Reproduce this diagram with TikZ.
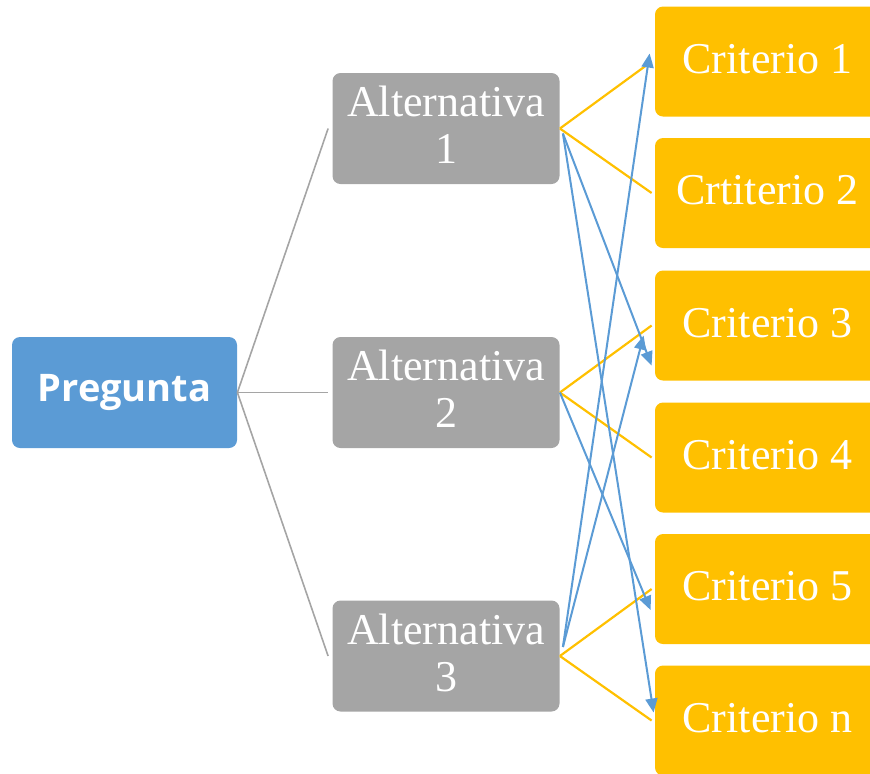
\documentclass[tikz,border=0pt]{standalone}
\usepackage{fontspec}
\setmainfont{Liberation Serif}
\newfontfamily\pregfont{Open Sans}
\usetikzlibrary{arrows.meta,calc}
\definecolor{pblue}{HTML}{5B9BD5}
\definecolor{pgray}{HTML}{A5A5A5}
\definecolor{pgold}{HTML}{FFC000}
\begin{document}
\begin{tikzpicture}[x=0.5pt,y=-0.5pt,
  box/.style={rounded corners=4pt,inner sep=0pt,text=white,align=center,
    font=\fontsize{22}{23.5}\selectfont},
  pregbox/.style={box,fill=pblue,minimum width=112.5pt,minimum height=55.5pt,
    font=\pregfont\bfseries\fontsize{19}{20}\selectfont},
  altbox/.style={box,fill=pgray,minimum width=113.5pt,minimum height=55.5pt,text depth=3.5pt},
  critbox/.style={box,fill=pgold,minimum width=112.5pt,minimum height=55pt,text depth=3pt},
  treeline/.style={draw=pgray,line width=0.8pt},
  goldline/.style={draw=pgold,line width=1.1pt},
  bluearrow/.style={draw=pblue,line width=1pt,-{Triangle[length=7pt,width=6pt]}}]
\useasboundingbox (0,0) rectangle (870,773);
\node[pregbox] (preg) at (124.5,392.5) {Pregunta};
\node[altbox] (alt1) at (446,128.5) {Alternativa\\1};
\node[altbox] (alt2) at (446,392.5) {Alternativa\\2};
\node[altbox] (alt3) at (446,656) {Alternativa\\3};
\node[critbox] (c1) at (767.5,61.5) {Criterio 1};
\node[critbox] (c2) at (767.5,193) {Crtiterio 2};
\node[critbox] (c3) at (767.5,325.5) {Criterio 3};
\node[critbox] (c4) at (767.5,457.5) {Criterio 4};
\node[critbox] (c5) at (767.5,589) {Criterio 5};
\node[critbox] (cn) at (767.5,720.5) {Criterio n};
% tree lines
\draw[treeline] (preg.east) -- ($(alt1.west)+(-4,0)$);
\draw[treeline] (preg.east) -- ($(alt2.west)+(-4,0)$);
\draw[treeline] (preg.east) -- ($(alt3.west)+(-4,0)$);
% gold lines
\foreach \a/\b in {alt1/c1,alt1/c2,alt2/c3,alt2/c4,alt3/c5,alt3/cn}{
  \draw[goldline] (\a.east) -- ($(\b.west)+(-3,0)$);
}
% blue arrows
\draw[bluearrow] ($(alt1.east)+(3,5)$) -- ($(c3.west)+(-3,40)$);
\draw[bluearrow] ($(alt1.east)+(3,5)$) -- ($(cn.west)+(-1,-8)$);
\draw[bluearrow] (alt2.east) -- ($(c5.west)+(-4,21)$);
\draw[bluearrow] ($(alt3.east)+(3,-9)$) -- ($(c1.west)+(-5,-8)$);
\draw[bluearrow] ($(alt3.east)+(3,-9)$) -- ($(c3.west)+(-11,10)$);
\end{tikzpicture}
\end{document}
